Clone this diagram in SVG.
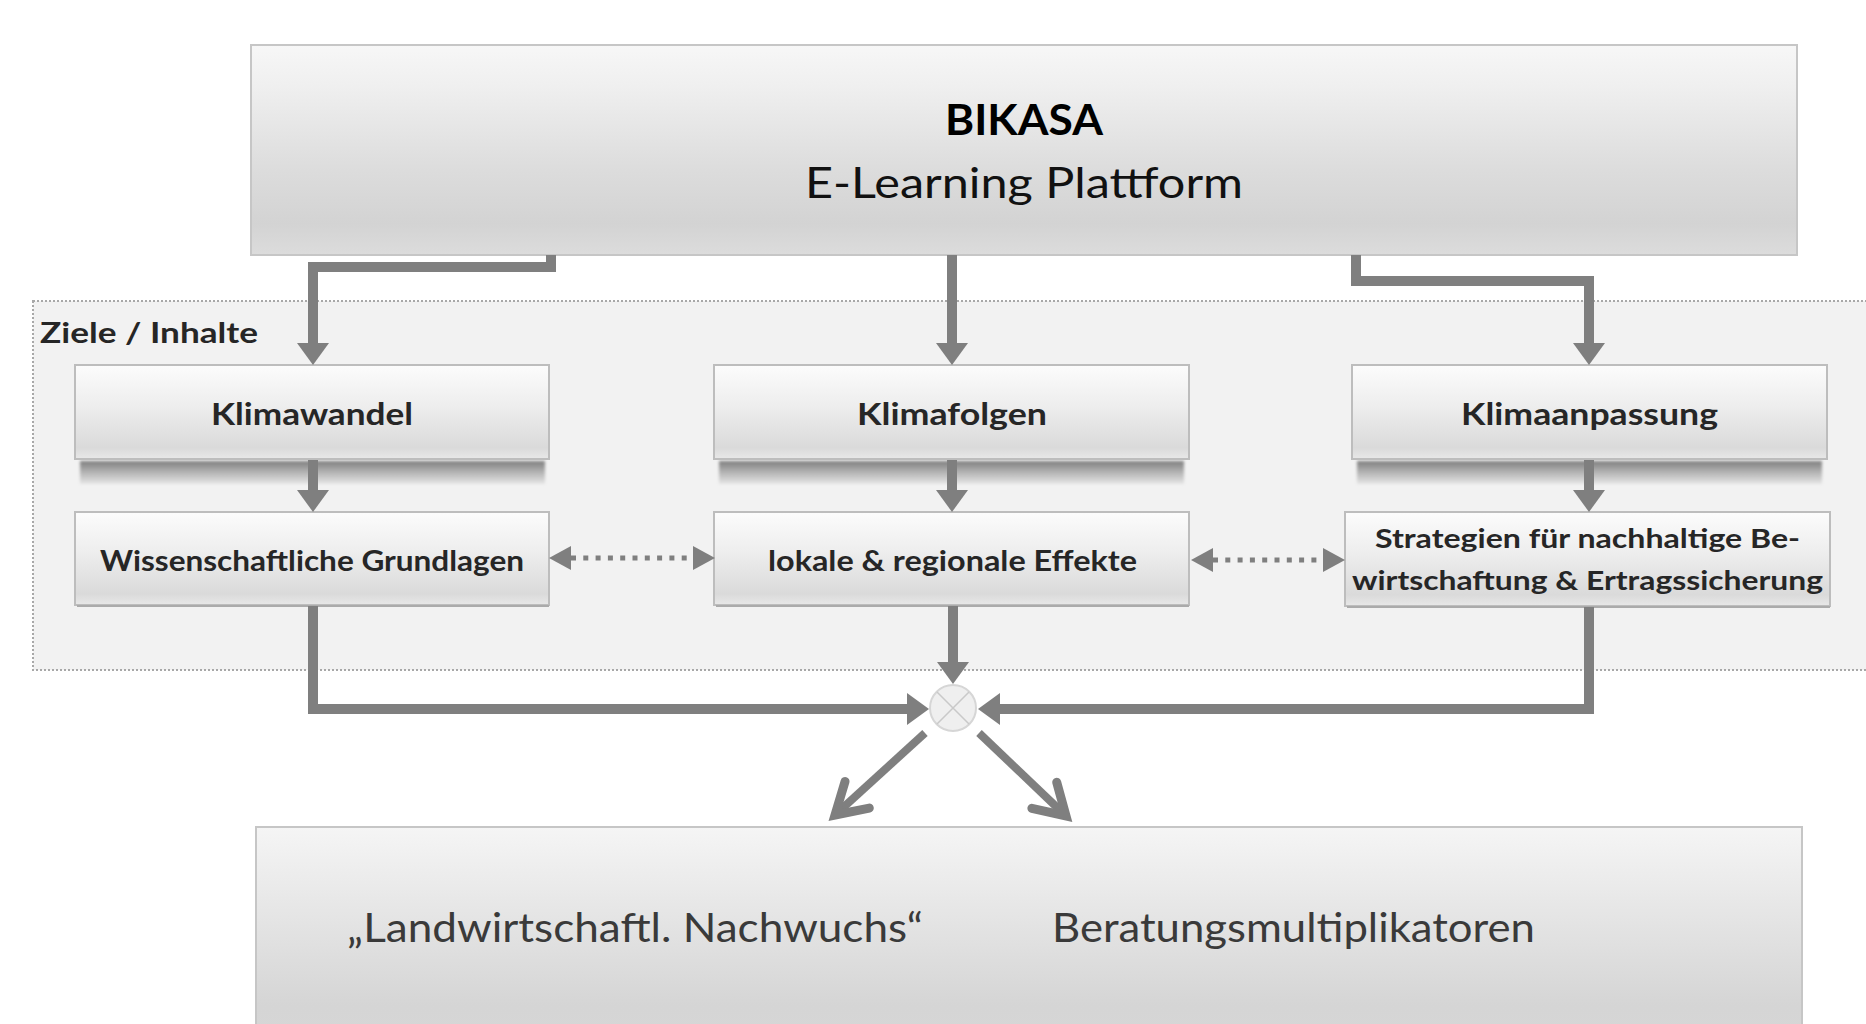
<svg xmlns="http://www.w3.org/2000/svg" width="1866" height="1024" viewBox="0 0 1866 1024">
  <defs>
    <linearGradient id="bigGrad" x1="0" y1="0" x2="0" y2="1">
      <stop offset="0" stop-color="#f7f7f7"/>
      <stop offset="0.2" stop-color="#efefef"/>
      <stop offset="0.6" stop-color="#dcdcdc"/>
      <stop offset="0.85" stop-color="#d3d3d3"/>
      <stop offset="1" stop-color="#dcdcdc"/>
    </linearGradient>
    <linearGradient id="botGrad" x1="0" y1="0" x2="0" y2="1">
      <stop offset="0" stop-color="#f5f5f5"/>
      <stop offset="0.45" stop-color="#e4e4e4"/>
      <stop offset="0.85" stop-color="#d5d5d5"/>
      <stop offset="1" stop-color="#d6d6d6"/>
    </linearGradient>
    <linearGradient id="nodeGrad" x1="0" y1="0" x2="0" y2="1">
      <stop offset="0" stop-color="#fcfcfc"/>
      <stop offset="0.45" stop-color="#ededed"/>
      <stop offset="0.88" stop-color="#dadada"/>
      <stop offset="1" stop-color="#e8e8e8"/>
    </linearGradient>
    <linearGradient id="shadowGrad" x1="0" y1="0" x2="0" y2="1">
      <stop offset="0" stop-color="#7e7e7e"/>
      <stop offset="0.5" stop-color="#b4b4b4"/>
      <stop offset="1" stop-color="#e6e6e6"/>
    </linearGradient>
    <filter id="soft" x="-5%" y="-50%" width="110%" height="200%">
      <feGaussianBlur stdDeviation="1.5"/>
    </filter>
    <marker id="tri" viewBox="0 0 22 32" refX="0" refY="16" markerWidth="22" markerHeight="32" markerUnits="userSpaceOnUse" orient="auto-start-reverse">
      <path d="M0,0 L22,16 L0,32 Z" fill="#7f7f7f"/>
    </marker>
    <marker id="triS" viewBox="0 0 22 24" refX="0" refY="12" markerWidth="22" markerHeight="24" markerUnits="userSpaceOnUse" orient="auto-start-reverse">
      <path d="M0,0 L22,12 L0,24 Z" fill="#7f7f7f"/>
    </marker>
    <marker id="open" viewBox="-40 -25 50 50" refX="0" refY="0" markerWidth="50" markerHeight="50" markerUnits="userSpaceOnUse" orient="auto" overflow="visible">
      <path d="M-30,-18 L0,0 L-30,18" fill="none" stroke="#7f7f7f" stroke-width="9" stroke-linecap="round" stroke-linejoin="miter"/>
    </marker>
  </defs>
  <style>
    .big { fill: url(#bigGrad); stroke: #c6c6c6; stroke-width: 2; }
    .bot { fill: url(#botGrad); stroke: #c6c6c6; stroke-width: 2; }
    .node { fill: url(#nodeGrad); stroke: #bdbdbd; stroke-width: 2; }
    .shadow { fill: url(#shadowGrad); filter: url(#soft); }
    .edge2 { stroke: #ababab; stroke-width: 2; }
    .conn { fill: none; stroke: #7f7f7f; stroke-width: 10; stroke-linejoin: miter; }
    .dot { fill: none; stroke: #7f7f7f; stroke-width: 5; stroke-dasharray: 5 7.3; }
    .diag { fill: none; stroke: #7f7f7f; stroke-width: 8; }
    .nt { font-family: Lato, "Liberation Sans", sans-serif; font-weight: bold; fill: #262626; }
    .bt { font-family: Lato, "Liberation Sans", sans-serif; fill: #3a3a3a; font-size: 40px; }
  </style>

  <!-- group region -->
  <g id="region">
    <rect x="33" y="301" width="1850" height="369" fill="#f2f2f2" stroke="#a8a8a8" stroke-width="2" stroke-dasharray="2 2"/>
    <text class="nt" x="40" y="343" font-size="29" textLength="218" lengthAdjust="spacingAndGlyphs" fill="#222">Ziele / Inhalte</text>
  </g>

  <g id="top">
    <rect class="big" x="251" y="45" width="1546" height="210"/>
    <text x="945" y="135" font-family="Lato, 'Liberation Sans', sans-serif" font-weight="bold" font-size="42" fill="#000" textLength="158" lengthAdjust="spacingAndGlyphs">BIKASA</text>
    <text x="805" y="198" font-family="Lato, 'Liberation Sans', sans-serif" font-size="42" fill="#111" textLength="438" lengthAdjust="spacingAndGlyphs">E-Learning Plattform</text>
  </g>

  <g id="klimawandel">
    <rect class="shadow" x="80" y="461" width="465" height="23"/>
    <rect class="node" x="75" y="365" width="474" height="94"/>
    <text class="nt" x="211" y="425" font-size="30" textLength="202" lengthAdjust="spacingAndGlyphs">Klimawandel</text>
  </g>
  <g id="klimafolgen">
    <rect class="shadow" x="719" y="461" width="465" height="23"/>
    <rect class="node" x="714" y="365" width="475" height="94"/>
    <text class="nt" x="857" y="425" font-size="30" textLength="190" lengthAdjust="spacingAndGlyphs">Klimafolgen</text>
  </g>
  <g id="klimaanpassung">
    <rect class="shadow" x="1357" y="461" width="465" height="23"/>
    <rect class="node" x="1352" y="365" width="475" height="94"/>
    <text class="nt" x="1461" y="425" font-size="30" textLength="257" lengthAdjust="spacingAndGlyphs">Klimaanpassung</text>
  </g>

  <g id="grundlagen">
    <rect class="node" x="75" y="512" width="474" height="93"/>
    <line class="edge2" x1="77" y1="606" x2="549" y2="606"/>
    <text class="nt" x="100" y="571" font-size="28" textLength="424" lengthAdjust="spacingAndGlyphs">Wissenschaftliche Grundlagen</text>
  </g>
  <g id="effekte">
    <rect class="node" x="714" y="512" width="475" height="93"/>
    <line class="edge2" x1="716" y1="606" x2="1189" y2="606"/>
    <text class="nt" x="768" y="571" font-size="28" textLength="369" lengthAdjust="spacingAndGlyphs">lokale &amp; regionale Effekte</text>
  </g>
  <g id="strategien">
    <rect class="node" x="1345" y="512" width="485" height="94"/>
    <line class="edge2" x1="1347" y1="607" x2="1830" y2="607"/>
    <text class="nt" x="1375" y="548" font-size="27" textLength="425" lengthAdjust="spacingAndGlyphs">Strategien für nachhaltige Be-</text>
    <text class="nt" x="1352" y="590" font-size="27" textLength="471" lengthAdjust="spacingAndGlyphs">wirtschaftung &amp; Ertragssicherung</text>
  </g>

  <g id="merge">
    <circle cx="953" cy="708" r="23" fill="#efefef" stroke="#d6d6d6" stroke-width="2"/>
    <path d="M937,692 L969,724 M969,692 L937,724" stroke="#c9c9c9" stroke-width="1.5"/>
  </g>

  <g id="bottom">
    <rect class="bot" x="256" y="827" width="1546" height="210"/>
    <text class="bt" x="347" y="942" textLength="576" lengthAdjust="spacingAndGlyphs">„Landwirtschaftl. Nachwuchs“</text>
    <text class="bt" x="1052" y="942" textLength="483" lengthAdjust="spacingAndGlyphs">Beratungsmultiplikatoren</text>
  </g>

  <g id="connectors">
    <path class="conn" d="M551,255 V267 H313 V343" marker-end="url(#tri)"/>
    <path class="conn" d="M952,255 V343" marker-end="url(#tri)"/>
    <path class="conn" d="M1356,255 V281 H1589 V343" marker-end="url(#tri)"/>
    <path class="conn" d="M313,460 V490" marker-end="url(#tri)"/>
    <path class="conn" d="M952,460 V490" marker-end="url(#tri)"/>
    <path class="conn" d="M1589,460 V490" marker-end="url(#tri)"/>
    <path class="dot" d="M571,558 H693" marker-start="url(#triS)" marker-end="url(#triS)"/>
    <path class="dot" d="M1213,560 H1323" marker-start="url(#triS)" marker-end="url(#triS)"/>
    <path class="conn" d="M313,606 V709 H907" marker-end="url(#tri)"/>
    <path class="conn" d="M953,606 V662" marker-end="url(#tri)"/>
    <path class="conn" d="M1589,607 V709 H1000" marker-end="url(#tri)"/>
    <path class="diag" d="M925,733 L835,815" marker-end="url(#open)"/>
    <path class="diag" d="M979,733 L1066,816" marker-end="url(#open)"/>
  </g>
</svg>
